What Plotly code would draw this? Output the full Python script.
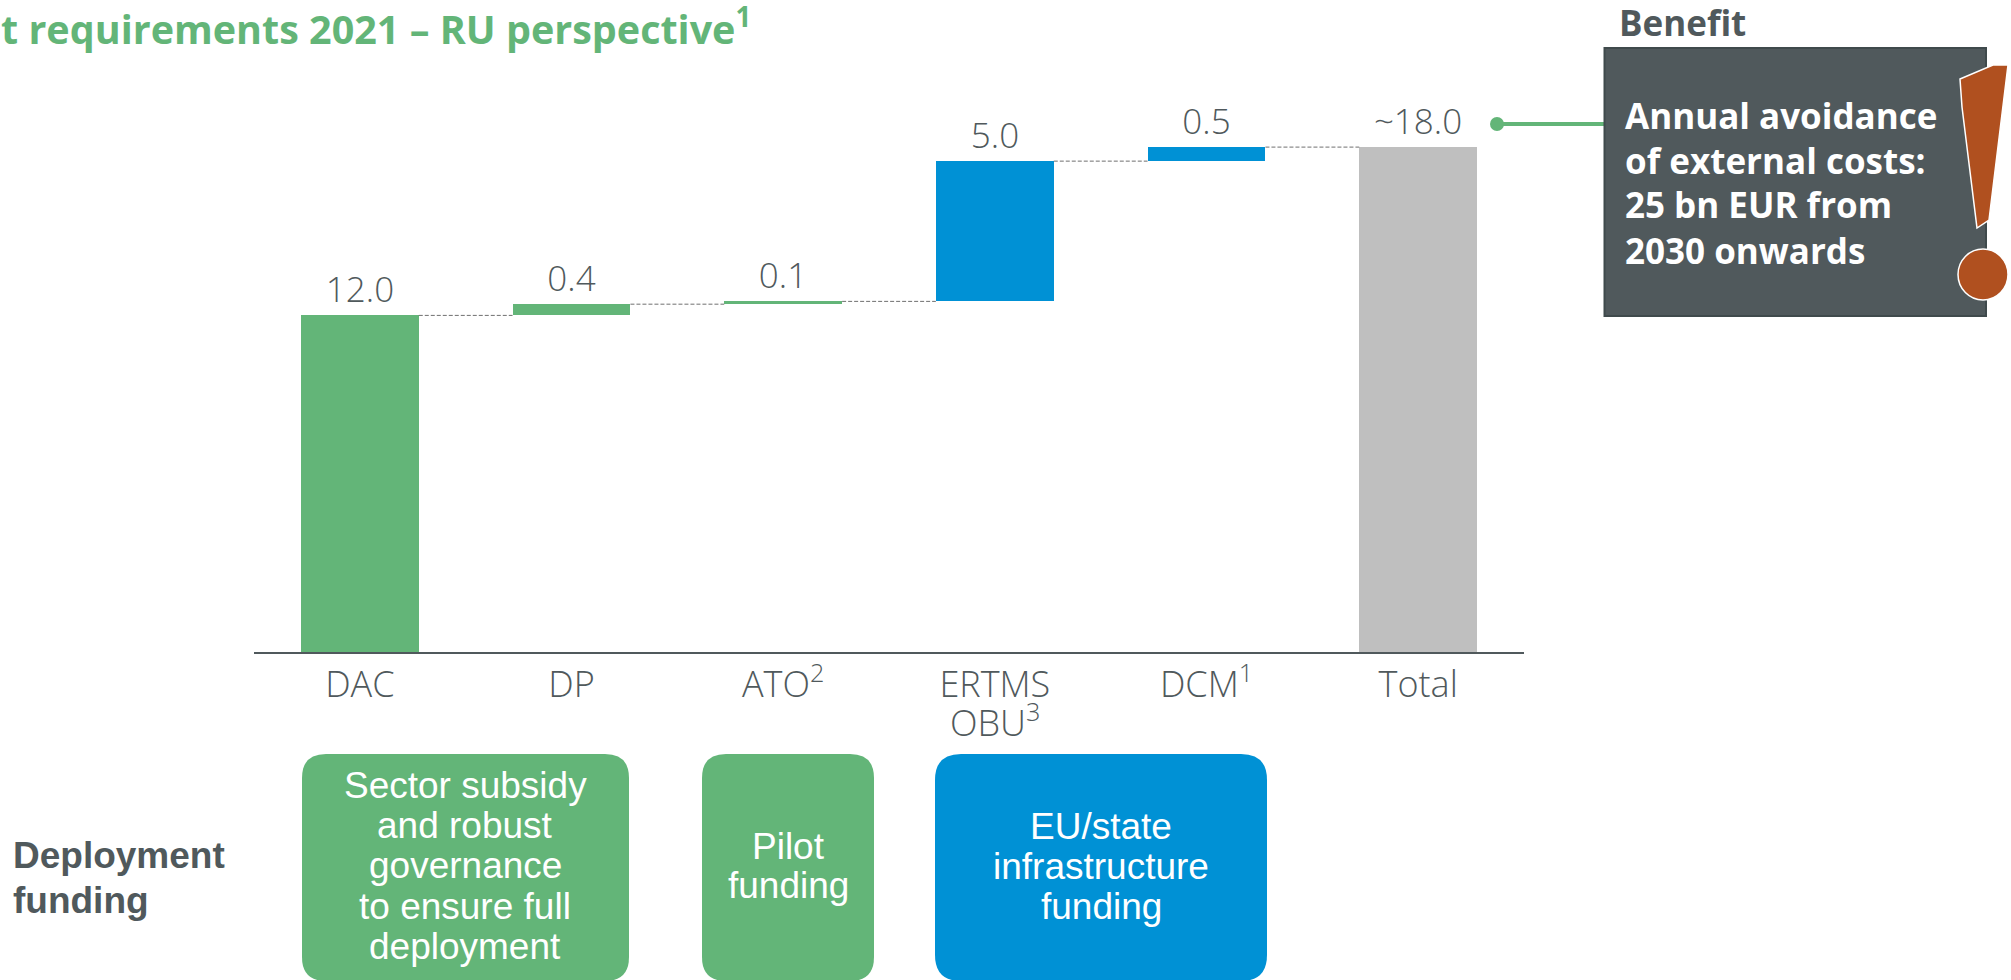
import plotly.graph_objects as go

categories = ["DAC", "DP", "ATO<sup>2</sup>", "ERTMS<br>OBU<sup>3</sup>", "DCM<sup>1</sup>", "Total"]
values = [12.0, 0.4, 0.1, 5.0, 0.5, 18.0]
value_labels = ["12.0", "0.4", "0.1", "5.0", "0.5", "~18.0"]
is_total = [False, False, False, False, False, True]
bar_colors = ["#63b578", "#63b578", "#63b578", "#0091d5", "#0091d5", "#bfbfbf"]

GREEN = "#63b578"
BLUE = "#0091d5"
DARK = "#50595c"
ORANGE = "#b0501f"
W, H = 2011, 980
L, R, T, B = 254, 1524, 100, 652
PX_PER_UNIT = 28.05
BAR_W = 0.557
LABEL_SIZE = 36

def px(x):
    return (x - L) / (R - L)

def py(y):
    return (B - y) / (B - T)

# waterfall geometry derived from the values
bases, level = [], 0.0
levels = []
for v, tot in zip(values, is_total):
    bases.append(0.0 if tot else level)
    level = v if tot else level + v
    levels.append(level)

fig = go.Figure()
xs = list(range(len(categories)))
for i in range(len(categories) - 1):
    fig.add_trace(go.Scatter(
        x=[i + BAR_W / 2, i + 1 - BAR_W / 2], y=[levels[i], levels[i]],
        mode="lines", line=dict(color="#6f6f6f", width=1, dash="4px,2px"),
        hoverinfo="skip", showlegend=False))
fig.add_trace(go.Bar(
    x=xs, y=values, base=bases, width=BAR_W,
    marker=dict(color=bar_colors, line=dict(width=0)),
    text=value_labels, textposition="outside", cliponaxis=False,
    textfont=dict(family="Open Sans", size=35, color=DARK, weight=300),
    showlegend=False))

shapes, ann = [], []

def text(s, x, y, anchor="center", size=33, color=DARK, family="Open Sans", weight=400):
    ann.append(dict(text=s, x=px(x), y=py(y), xref="paper", yref="paper", xanchor=anchor,
                    yanchor="middle", showarrow=False, align=anchor if anchor != "center" else "center",
                    font=dict(family=family, size=size, color=color, weight=weight),
                    xshift=0, yshift=0, borderpad=0))

def rounded(x0, y0, x1, y1, r, color):
    X0, X1 = px(x0), px(x1)
    Y0, Y1 = py(y0), py(y1)
    rx, ry = r / (R - L), r / (B - T)
    path = (f"M {X0+rx} {Y0} L {X1-rx} {Y0} Q {X1} {Y0} {X1} {Y0-ry} L {X1} {Y1+ry} "
            f"Q {X1} {Y1} {X1-rx} {Y1} L {X0+rx} {Y1} Q {X0} {Y1} {X0} {Y1+ry} "
            f"L {X0} {Y0-ry} Q {X0} {Y0} {X0+rx} {Y0} Z")
    shapes.append(dict(type="path", path=path, xref="paper", yref="paper",
                       fillcolor=color, line=dict(width=0), layer="below"))

# funding boxes
rounded(302, 754, 629, 981, 24, GREEN)
rounded(702, 754, 874, 981, 24, GREEN)
rounded(935, 754, 1267, 981, 26, BLUE)
for s, y in zip(["Sector subsidy", "and robust", "governance", "to ensure full", "deployment"],
                [785, 825, 865, 906, 946]):
    text(s, 465, y, size=37, color="white", family="Liberation Sans")
for s, y in zip(["Pilot", "funding"], [846, 886]):
    text(s, 788, y, size=37, color="white", family="Liberation Sans")
for s, y in zip(["EU/state", "infrastructure", "funding"], [826, 866, 906]):
    text(s, 1101, y, size=37, color="white", family="Liberation Sans")
for s, y in zip(["Deployment", "funding"], [855, 900]):
    text(s, 12, y, anchor="left", size=37, color=DARK, family="Liberation Sans", weight=700)

# second lines of the axis labels, kept tight as in the reference
tick_first = [c.split("<br>")[0] for c in categories]
for i, c in enumerate(categories):
    if "<br>" in c:
        ann.append(dict(text=c.split("<br>")[1], x=i, y=py(720), xref="x", yref="paper",
                        xanchor="center", yanchor="middle", showarrow=False,
                        font=dict(family="Open Sans", size=LABEL_SIZE, color=DARK, weight=300)))

# title
text("t requirements 2021 – RU perspective<sup>1</sup>", 0, 26, anchor="left", size=39.5, color=GREEN, weight=700)

# benefit call-out
text("Benefit", 1618, 23, anchor="left", size=35, color=DARK, weight=700)
shapes.append(dict(type="line", xref="paper", yref="paper", x0=px(1497), x1=px(1604), y0=py(124), y1=py(124),
                   line=dict(color=GREEN, width=4)))
shapes.append(dict(type="circle", xref="paper", yref="paper", x0=px(1490), x1=px(1504), y0=py(117), y1=py(131),
                   fillcolor=GREEN, line=dict(width=0)))
shapes.append(dict(type="rect", xref="paper", yref="paper", x0=px(1604.5), x1=px(1986), y0=py(48), y1=py(316),
                   fillcolor=DARK, line=dict(color="#3f4a4c", width=2)))
for s, y in zip(["Annual avoidance", "of external costs:", "25 bn EUR from", "2030 onwards"],
                [115, 160, 205, 250]):
    text(s, 1624, y, anchor="left", size=35, color="white", weight=700)

# exclamation mark
pts = [(1960, 79), (1993, 65), (2008, 65), (1989, 220), (1977, 228), (1962, 107)]
path = "M " + " L ".join(f"{px(a)} {py(b)}" for a, b in pts) + " Z"
shapes.append(dict(type="path", path=path, xref="paper", yref="paper", fillcolor=ORANGE,
                   line=dict(color="white", width=1.5)))
shapes.append(dict(type="circle", xref="paper", yref="paper", x0=px(1958), x1=px(2008), y0=py(249), y1=py(300),
                   fillcolor=ORANGE, line=dict(color="white", width=1.5)))

fig.update_layout(
    width=W, height=H, margin=dict(l=L, r=W - R, t=T, b=H - B, pad=0),
    paper_bgcolor="white", plot_bgcolor="white", showlegend=False,
    shapes=shapes, annotations=ann, bargap=0,
    font=dict(family="Open Sans", color=DARK),
    xaxis=dict(range=[-0.5, 5.5], tickmode="array", tickvals=xs, ticktext=tick_first,
               showgrid=False, zeroline=False, showline=True, linecolor=DARK, linewidth=2,
               ticks="", ticklabelstandoff=0,
               tickfont=dict(family="Open Sans", size=LABEL_SIZE, color=DARK, weight=300), tickangle=0),
    yaxis=dict(range=[0, (B - T) / PX_PER_UNIT], visible=False),
)
fig.write_html("out.html", config={"displayModeBar": False},
               post_script="document.body.style.margin='0';document.documentElement.style.overflow='hidden';")
